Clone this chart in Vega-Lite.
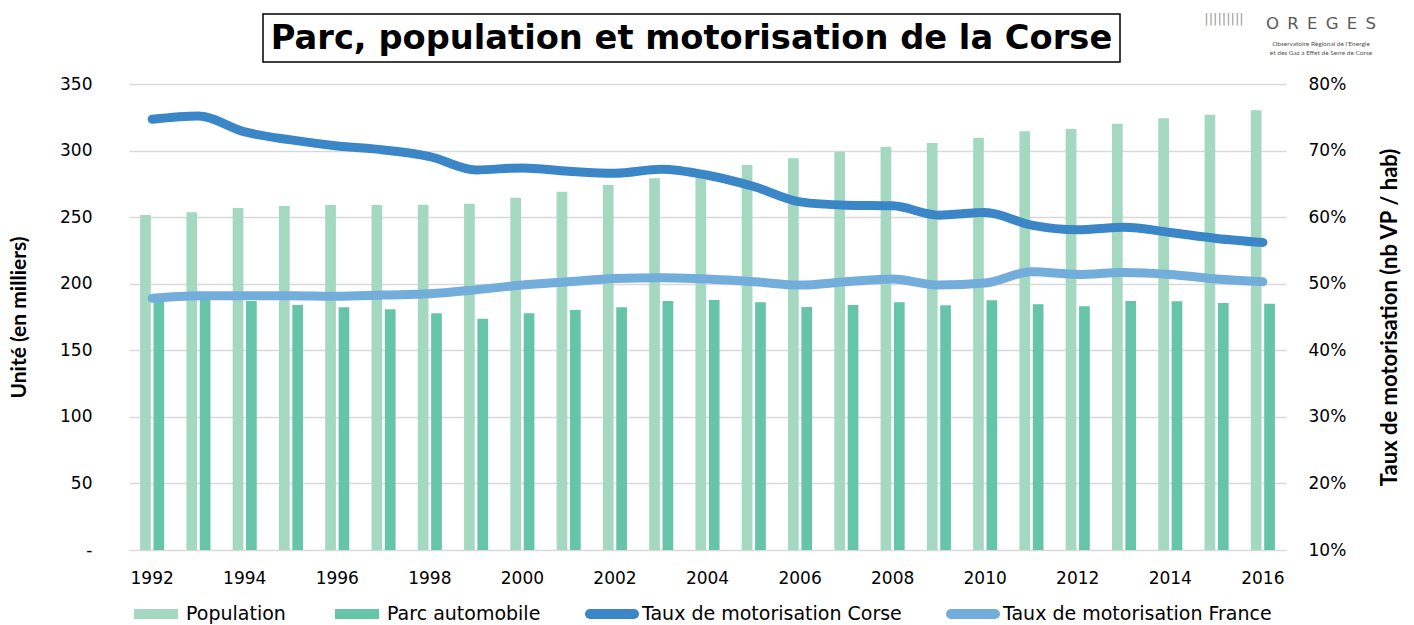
{
  "$schema": "https://vega.github.io/schema/vega-lite/v6.json",
  "background": "white",
  "padding": {"left": 8, "top": 13, "right": 5, "bottom": 0},
  "config": {"view": {"stroke": null}, "font": "DejaVu Sans"},
  "spacing": 11,
  "vconcat": [
    {
      "spacing": 0,
      "hconcat": [
        {"width": 133, "height": 50, "data": {"values": [{}]}, "mark": {"type": "text", "text": ""}},
        {
          "width": 857, "height": 48,
          "view": {"stroke": "#000000", "strokeWidth": 1.5},
          "data": {"values": [{}]},
          "mark": {"type": "text", "text": "Parc, population et motorisation de la Corse", "font": "DejaVu Sans", "fontWeight": "bold", "fontSize": 33.7, "align": "center", "baseline": "middle", "color": "#000000", "dy": 1}
        },
        {
          "width": 200, "height": 50,
          "data": {"values": [{}]},
          "layer": [
            {"mark": {"type": "text", "text": "O\u2002R\u2002E\u2002G\u2002E\u2002S", "font": "DejaVu Sans", "fontSize": 16.5, "color": "#5a5a5a", "align": "center", "baseline": "middle", "dx": 100, "dy": -15}},
            {"mark": {"type": "text", "text": "|||||||||", "font": "DejaVu Sans", "fontSize": 13, "color": "#999999", "align": "center", "baseline": "middle", "dx": 3, "dy": -20}},
            {"mark": {"type": "text", "text": "Observatoire Régional de l'Energie", "font": "Lato", "fontSize": 6.5, "color": "#555555", "align": "center", "baseline": "middle", "dx": 100, "dy": 5}},
            {"mark": {"type": "text", "text": "et des Gaz à Effet de Serre de Corse", "font": "Lato", "fontSize": 6.5, "color": "#555555", "align": "center", "baseline": "middle", "dx": 100, "dy": 14}}
          ]
        }
      ]
    },
    {
      "width": 1157,
      "height": 466,
      "data": {
        "values": [
          {"year": 1992, "Population": 251.6, "Parc automobile": 188.0, "Taux de motorisation Corse": 0.747, "Taux de motorisation France": 0.478},
          {"year": 1993, "Population": 253.6, "Parc automobile": 191.0, "Taux de motorisation Corse": 0.752, "Taux de motorisation France": 0.482},
          {"year": 1994, "Population": 256.9, "Parc automobile": 187.0, "Taux de motorisation Corse": 0.728, "Taux de motorisation France": 0.482},
          {"year": 1995, "Population": 258.4, "Parc automobile": 184.0, "Taux de motorisation Corse": 0.716, "Taux de motorisation France": 0.482},
          {"year": 1996, "Population": 259.1, "Parc automobile": 182.3, "Taux de motorisation Corse": 0.707, "Taux de motorisation France": 0.481},
          {"year": 1997, "Population": 259.1, "Parc automobile": 180.8, "Taux de motorisation Corse": 0.701, "Taux de motorisation France": 0.483},
          {"year": 1998, "Population": 259.4, "Parc automobile": 177.8, "Taux de motorisation Corse": 0.691, "Taux de motorisation France": 0.485},
          {"year": 1999, "Population": 260.1, "Parc automobile": 173.7, "Taux de motorisation Corse": 0.671, "Taux de motorisation France": 0.491},
          {"year": 2000, "Population": 264.6, "Parc automobile": 177.8, "Taux de motorisation Corse": 0.674, "Taux de motorisation France": 0.498},
          {"year": 2001, "Population": 269.1, "Parc automobile": 180.3, "Taux de motorisation Corse": 0.669, "Taux de motorisation France": 0.503},
          {"year": 2002, "Population": 274.2, "Parc automobile": 182.3, "Taux de motorisation Corse": 0.666, "Taux de motorisation France": 0.508},
          {"year": 2003, "Population": 279.2, "Parc automobile": 187.0, "Taux de motorisation Corse": 0.672, "Taux de motorisation France": 0.509},
          {"year": 2004, "Population": 283.0, "Parc automobile": 187.8, "Taux de motorisation Corse": 0.663, "Taux de motorisation France": 0.507},
          {"year": 2005, "Population": 289.2, "Parc automobile": 186.0, "Taux de motorisation Corse": 0.646, "Taux de motorisation France": 0.503},
          {"year": 2006, "Population": 294.2, "Parc automobile": 182.5, "Taux de motorisation Corse": 0.623, "Taux de motorisation France": 0.498},
          {"year": 2007, "Population": 299.2, "Parc automobile": 184.0, "Taux de motorisation Corse": 0.618, "Taux de motorisation France": 0.503},
          {"year": 2008, "Population": 302.9, "Parc automobile": 186.0, "Taux de motorisation Corse": 0.617, "Taux de motorisation France": 0.507},
          {"year": 2009, "Population": 305.7, "Parc automobile": 183.8, "Taux de motorisation Corse": 0.603, "Taux de motorisation France": 0.498},
          {"year": 2010, "Population": 309.7, "Parc automobile": 187.5, "Taux de motorisation Corse": 0.607, "Taux de motorisation France": 0.501},
          {"year": 2011, "Population": 314.5, "Parc automobile": 184.5, "Taux de motorisation Corse": 0.588, "Taux de motorisation France": 0.518},
          {"year": 2012, "Population": 316.2, "Parc automobile": 183.0, "Taux de motorisation Corse": 0.581, "Taux de motorisation France": 0.514},
          {"year": 2013, "Population": 320.2, "Parc automobile": 187.0, "Taux de motorisation Corse": 0.585, "Taux de motorisation France": 0.517},
          {"year": 2014, "Population": 324.2, "Parc automobile": 186.8, "Taux de motorisation Corse": 0.577, "Taux de motorisation France": 0.514},
          {"year": 2015, "Population": 326.9, "Parc automobile": 185.5, "Taux de motorisation Corse": 0.568, "Taux de motorisation France": 0.507},
          {"year": 2016, "Population": 330.2, "Parc automobile": 185.0, "Taux de motorisation Corse": 0.562, "Taux de motorisation France": 0.503}
        ]
      },
      "layer": [
        {
          "transform": [{"fold": ["Population", "Parc automobile"], "as": ["series", "value"]}],
          "mark": {"type": "bar"},
          "encoding": {
            "x": {
              "field": "year", "type": "ordinal",
              "scale": {"paddingInner": 0.48, "paddingOuter": 0.24},
              "axis": {"title": null, "labelAngle": 0, "labelExpr": "datum.value % 2 === 0 ? datum.label : ''", "labelFont": "DejaVu Sans", "labelFontSize": 17, "labelColor": "#000000", "ticks": false, "domain": false, "labelPadding": 20}
            },
            "xOffset": {"field": "series", "type": "nominal", "sort": ["Population", "Parc automobile"], "scale": {"paddingInner": 0.2}},
            "y": {
              "field": "value", "type": "quantitative",
              "scale": {"domain": [0, 350]},
              "axis": {"title": "Unité (en milliers)", "values": [0, 50, 100, 150, 200, 250, 300, 350], "labelExpr": "datum.value === 0 ? '-' : datum.label", "labelFont": "DejaVu Sans", "labelFontSize": 17, "labelColor": "#000000", "labelPadding": 37, "ticks": false, "domain": false, "gridColor": "#d9d9d9", "gridWidth": 1.5, "titleFont": "Lato", "titleFontSize": 21, "titleFontWeight": "bold", "titleColor": "#000000", "titlePadding": 30}
            },
            "color": {
              "field": "series", "type": "nominal",
              "scale": {"domain": ["Population", "Parc automobile", "Taux de motorisation Corse", "Taux de motorisation France"], "range": ["#a4d8c1", "#66c4a8", "#3b86c7", "#72addb"]},
              "legend": {
                "orient": "none", "legendX": 0, "legendY": 573, "direction": "horizontal", "title": null,
                "labelFont": "DejaVu Sans", "labelFontSize": 19, "labelColor": "#000000", "symbolType": "stroke", "symbolSize": 1936, "symbolStrokeWidth": 10, "columnPadding": 29, "labelOffset": 3, "labelLimit": 400,
                "encode": {"symbols": {"update": {
                  "strokeCap": {"signal": "indexof(['Population','Parc automobile'], datum.value) >= 0 ? 'butt' : 'round'"},
                  "stroke": {"scale": "color", "field": "value"},
                  "opacity": {"value": 1}, "strokeOpacity": {"value": 1}
                }}}
              }
            }
          }
        },
        {
          "transform": [{"fold": ["Taux de motorisation Corse", "Taux de motorisation France"], "as": ["series", "value"]}],
          "mark": {"type": "line", "strokeWidth": 9, "strokeCap": "round", "strokeJoin": "round", "interpolate": "monotone"},
          "encoding": {
            "x": {
              "field": "year", "type": "ordinal", "bandPosition": 0.5,
              "scale": {"paddingInner": 0.48, "paddingOuter": 0.24},
              "axis": {"title": null, "labelAngle": 0, "labelExpr": "datum.value % 2 === 0 ? datum.label : ''", "labelFont": "DejaVu Sans", "labelFontSize": 17, "labelColor": "#000000", "ticks": false, "domain": false, "labelPadding": 20}
            },
            "y": {
              "field": "value", "type": "quantitative",
              "scale": {"domain": [0.1, 0.8]},
              "axis": {"orient": "right", "title": "Taux de motorisation (nb VP / hab)", "values": [0.1, 0.2, 0.3, 0.4, 0.5, 0.6, 0.7, 0.8], "format": ".0%", "grid": false, "labelFont": "DejaVu Sans", "labelFontSize": 17, "labelColor": "#000000", "labelPadding": 22, "ticks": false, "domain": false, "titleFont": "Lato", "titleFontSize": 22, "titleFontWeight": "bold", "titleColor": "#000000", "titlePadding": 56, "titleAngle": 270}
            },
            "color": {
              "field": "series", "type": "nominal",
              "scale": {"domain": ["Population", "Parc automobile", "Taux de motorisation Corse", "Taux de motorisation France"], "range": ["#a4d8c1", "#66c4a8", "#3b86c7", "#72addb"]},
              "legend": {
                "orient": "none", "legendX": 0, "legendY": 573, "direction": "horizontal", "title": null,
                "labelFont": "DejaVu Sans", "labelFontSize": 19, "labelColor": "#000000", "symbolType": "stroke", "symbolSize": 1936, "symbolStrokeWidth": 10, "columnPadding": 29, "labelOffset": 3, "labelLimit": 400,
                "encode": {"symbols": {"update": {
                  "strokeCap": {"signal": "indexof(['Population','Parc automobile'], datum.value) >= 0 ? 'butt' : 'round'"},
                  "stroke": {"scale": "color", "field": "value"},
                  "opacity": {"value": 1}, "strokeOpacity": {"value": 1}
                }}}
              }
            }
          }
        }
      ],
      "resolve": {"scale": {"y": "independent"}}
    }
  ]
}
